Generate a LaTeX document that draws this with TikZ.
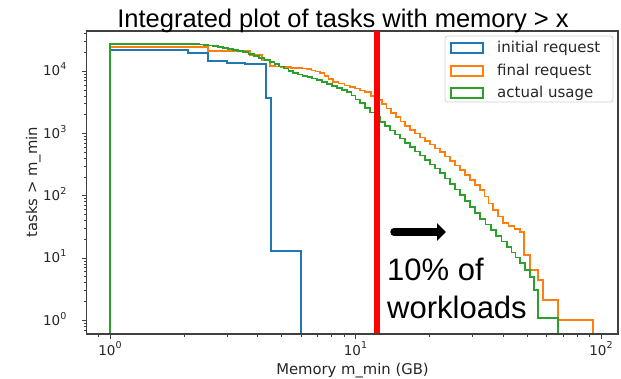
\documentclass[tikz,border=0pt]{standalone}
\usepackage{fontspec}
\setmainfont{Liberation Sans}
\newfontfamily\dvsans{DejaVu Sans}
\usetikzlibrary{arrows.meta}

\definecolor{mplblue}{HTML}{1F77B4}
\definecolor{mplorange}{HTML}{FF7F0E}
\definecolor{mplgreen}{HTML}{2CA02C}
\definecolor{spinegray}{HTML}{404040}

% power-of-ten tick label
\newcommand\tenpow[1]{10\raisebox{0.45em}{\fontsize{9.5}{9.5}\selectfont #1}}

% staircase between listed points: xa/ya/xb/yb, bins about 5 units wide
\newcommand\stairs[1]{%
  \foreach \xa/\ya/\xb/\yb [evaluate=\xa as \nst using {int(max(1,round((\xb-\xa)/5)))}] in {#1} {
    \foreach \k in {1,...,\nst} {
      -| ({\xa+\k*(\xb-\xa)/\nst},{\ya+\k*(\yb-\ya)/\nst})
    }
  }}

\tikzset{
  curve/.style={line width=1.6pt, line join=miter},
  spine/.style={draw=spinegray, line width=1.1pt},
  majortick/.style={draw=spinegray, line width=0.9pt},
  minortick/.style={draw=spinegray, line width=0.7pt},
  ticklabel/.style={font=\dvsans\fontsize{13.5}{13.5}\selectfont, inner sep=0pt, text=black!85},
  axislabel/.style={font=\dvsans\fontsize{14.8}{14.8}\selectfont, inner sep=0pt, text=black!85},
  legendtext/.style={font=\dvsans\fontsize{15}{15}\selectfont, inner sep=0pt, anchor=base west, text=black!85},
  legendpatch/.style={draw, line width=1.3pt, fill=white, minimum width=32pt, minimum height=10pt, inner sep=0pt},
  titletext/.style={font=\fontsize{25.5}{30}\selectfont, inner sep=0pt, anchor=base},
  annot/.style={font=\fontsize{31}{36}\selectfont, inner sep=0pt, anchor=base west},
}

\begin{document}
\begin{tikzpicture}[x=1pt, y=-1pt]
\useasboundingbox (0,0) rectangle (621,379);
\fill[white] (0,0) rectangle (621,379);

% ---- histograms (cumulative, step style) ----
\draw[curve, mplblue] (110,334) -- (110,50) -- (188,50) -- (188,53) -- (208,53) -- (208,61)
  -- (227,61) -- (227,63) -- (245,63) -- (245,64) -- (266,64) -- (266,98) -- (271,98)
  -- (271,251) -- (301,251) -- (301,334);

\draw[curve, mplorange] (110,334) -- (110,47) -- (208,47) -- (208,51) -- (250,51) -- (250,55)
  -- (262,55) -- (262,60) -- (270,60) -- (270,66)
  \stairs{270/66/307/69, 307/69/320/73, 320/73/333/82, 333/82/350/87, 350/87/365/92,
          365/92/377/100, 377/100/410/130, 410/130/440/152, 440/152/460/170,
          460/170/480/190, 480/190/493/210, 493/210/503/223, 503/223/520/232}
  -| (524,255) -- (530,255) -- (530,270) -- (538,270) -- (538,280) -- (543,280)
  -- (543,300) -- (558,300) -- (558,320) -- (593,320) -- (593,334);

\draw[curve, mplgreen] (110,334) -- (110,44) -- (195,44)
  \stairs{195/44/213/46, 213/46/243/52, 243/52/270/62, 270/62/293/73, 293/73/317/80,
          317/80/347/92, 347/92/360/103, 360/103/380/122, 380/122/410/147,
          410/147/440/173, 440/173/460/195, 460/195/480/219, 480/219/507/247,
          507/247/520/263, 520/263/530/277, 530/277/538/303}
  -- (538,318) -- (558,318) -- (558,334);

% ---- axes frame ----
\draw[spine] (86.5,31) rectangle (618,334);

% y ticks (log scale)
\foreach \k in {0,...,4} {
  \draw[majortick] (86.5,{320.3-62.3*\k}) -- ++(-5,0);
  \node[ticklabel, anchor=base east] (ytick\k) at (66.5,{320.3-62.3*\k+4.9}) {\tenpow{\k}};
}
\foreach \k in {-1,...,4} {
  \foreach \m in {2,...,9} {
    \pgfmathsetmacro\yy{320.3-62.3*(\k+log10(\m))}
    \ifdim\yy pt<333pt \ifdim\yy pt>32pt
      \draw[minortick] (86.5,\yy) -- ++(-3,0);
    \fi\fi
  }
}

% x ticks (log scale)
\foreach \k in {0,1,2} {
  \draw[majortick] ({110+245.5*\k},334) -- ++(0,5);
  \node[ticklabel, anchor=base] (xtick\k) at ({110+245.5*\k},355) {\tenpow{\k}};
}
\foreach \k in {-1,0,1} {
  \foreach \m in {2,...,9} {
    \pgfmathsetmacro\xx{110+245.5*(\k+log10(\m))}
    \ifdim\xx pt>87pt \ifdim\xx pt<617pt
      \draw[minortick] (\xx,334) -- ++(0,3);
    \fi\fi
  }
}

% axis labels
\node[axislabel, anchor=base] (xlabel) at (352.5,374) {Memory m\_min (GB)};
\node[axislabel, anchor=base, rotate=90] (ylabel) at (37,182) {tasks > m\_min};

% ---- legend ----
\node[draw=black!18, line width=0.8pt, rounded corners=2.5pt, fill=white, fill opacity=0.8,
      minimum width=168pt, minimum height=66pt, inner sep=0pt] (legend) at (529,69) {};
\node[legendpatch, draw=mplblue]   (patchinit)  at (467,48) {};
\node[legendpatch, draw=mplorange] (patchfinal) at (467,71) {};
\node[legendpatch, draw=mplgreen]  (patchusage) at (467,93) {};
\node[legendtext] (labinit)  at (497,52.1) {initial request};
\node[legendtext] (labfinal) at (497,75.1) {final request};
\node[legendtext] (labusage) at (497,97.1) {actual usage};

% ---- threshold marker ----
\coordinate (redtop) at (377,31);
\coordinate (redbot) at (377,333);
\draw[red, line width=6pt] (redtop) -- (redbot);

\coordinate (arrowtail) at (394,232);
\coordinate (arrowhead) at (446,232);
\draw[black, line width=7.5pt, line cap=round, -{Triangle[length=9pt, width=17pt]}] (arrowtail) -- (arrowhead);

\node[annot] (pct) at (387,281) {10\% of};
\node[annot] (workloads) at (387,319) {workloads};

% ---- title ----
\node[titletext] (title) at (343,28) {Integrated plot of tasks with memory > x};
\end{tikzpicture}
\end{document}
